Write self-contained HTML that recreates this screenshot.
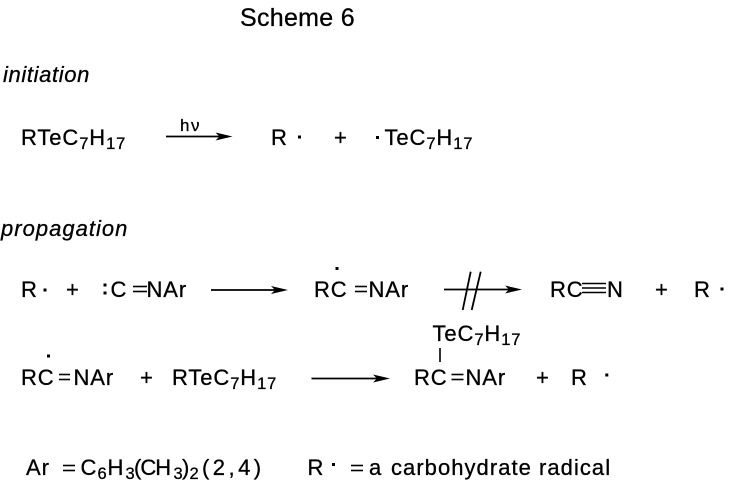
<!DOCTYPE html>
<html>
<head>
<meta charset="utf-8">
<style>
html,body{margin:0;padding:0;background:#fff;width:732px;height:490px;overflow:hidden}
svg{display:block}
text{font-family:"Liberation Sans",Arial,sans-serif;fill:#000;stroke:#000;stroke-width:0.3px;font-size:22px;letter-spacing:0.9px}
.it{font-style:italic;letter-spacing:0.6px}
.s{font-size:16.5px}
line{stroke:#000;stroke-width:1.8}
.b{stroke-width:1.6}
</style>
</head>
<body>
<svg width="732" height="490" viewBox="0 0 732 490" xmlns="http://www.w3.org/2000/svg">
<!-- Title -->
<text x="240" y="26" style="font-size:25px;letter-spacing:0.3px">Scheme 6</text>

<!-- initiation -->
<text class="it" x="3" y="82" textLength="87" lengthAdjust="spacing">initiation</text>

<text x="21" y="145">RTeC<tspan class="s" dy="4">7</tspan><tspan dy="-4">H</tspan><tspan class="s" dy="4">17</tspan></text>

<line x1="166" y1="136.5" x2="220" y2="136.5"/>
<polygon points="232.5,136.5 215.5,132.5 219.5,136.5 215.5,140.5" fill="#000"/>
<text x="180" y="131" style="font-size:17px;letter-spacing:0">h</text>
<text x="191" y="131" style="font-size:17px;letter-spacing:0">ν</text>

<text x="271" y="145">R</text>
<rect x="298" y="135.5" width="3" height="3" fill="#000"/>
<text x="334" y="145">+</text>
<rect x="376" y="136" width="3" height="3" fill="#000"/>
<text x="384.5" y="145">TeC<tspan class="s" dy="4">7</tspan><tspan dy="-4">H</tspan><tspan class="s" dy="4">17</tspan></text>

<!-- propagation -->
<text class="it" x="1" y="236" textLength="127" lengthAdjust="spacing">propagation</text>

<!-- Row 2 -->
<text x="21" y="297">R</text>
<rect x="43.5" y="288.5" width="3" height="3" fill="#000"/>
<text x="66" y="297">+</text>
<rect x="103.5" y="283.5" width="3" height="3" fill="#000"/>
<rect x="103.5" y="291.5" width="3" height="3" fill="#000"/>
<text x="110.5" y="297">C</text>
<line class="b" x1="133" y1="286.5" x2="147" y2="286.5"/>
<line class="b" x1="133" y1="291.5" x2="147" y2="291.5"/>
<text x="146.5" y="297">NAr</text>

<line x1="211" y1="290" x2="276" y2="290"/>
<polygon points="288,290 271,286 275,290 271,294" fill="#000"/>

<text x="314" y="297">RC</text>
<rect x="335.5" y="267" width="3" height="3" fill="#000"/>
<line class="b" x1="355" y1="286.5" x2="367" y2="286.5"/>
<line class="b" x1="355" y1="291.5" x2="367" y2="291.5"/>
<text x="368.5" y="297">NAr</text>

<line x1="444" y1="289.5" x2="510" y2="289.5"/>
<polygon points="522,289.5 505,285.5 509,289.5 505,293.5" fill="#000"/>
<line x1="470.7" y1="271.7" x2="462.7" y2="310"/>
<line x1="480.7" y1="271.7" x2="471.7" y2="310"/>

<text x="550" y="297">RC</text>
<line class="b" x1="582" y1="283.5" x2="606" y2="283.5"/>
<line class="b" x1="582" y1="288" x2="606" y2="288"/>
<line class="b" x1="582" y1="292.5" x2="606" y2="292.5"/>
<text x="607" y="297">N</text>
<text x="655" y="297">+</text>
<text x="694" y="297">R</text>
<rect x="720.5" y="287.5" width="3" height="3" fill="#000"/>

<!-- Row 3 -->
<text x="432.5" y="341">TeC<tspan class="s" dy="4">7</tspan><tspan dy="-4">H</tspan><tspan class="s" dy="4">17</tspan></text>
<line class="b" x1="440" y1="348" x2="440" y2="362"/>

<text x="21" y="385">RC</text>
<rect x="47" y="354.5" width="3" height="3" fill="#000"/>
<line class="b" x1="59" y1="374.5" x2="70" y2="374.5"/>
<line class="b" x1="59" y1="379.5" x2="70" y2="379.5"/>
<text x="73.5" y="385">NAr</text>
<text x="140" y="385">+</text>
<text x="172" y="385">RTeC<tspan class="s" dy="4">7</tspan><tspan dy="-4">H</tspan><tspan class="s" dy="4">17</tspan></text>

<line x1="311.5" y1="378.5" x2="378" y2="378.5"/>
<polygon points="390,378.5 373,374.5 377,378.5 373,382.5" fill="#000"/>

<text x="414" y="385">RC</text>
<line class="b" x1="451.5" y1="374.5" x2="463.5" y2="374.5"/>
<line class="b" x1="451.5" y1="379.5" x2="463.5" y2="379.5"/>
<text x="465.5" y="385">NAr</text>
<text x="536" y="385">+</text>
<text x="571" y="385">R</text>
<rect x="605.3" y="373.5" width="3" height="3" fill="#000"/>

<!-- Bottom -->
<text x="26" y="475">Ar</text>
<line class="b" x1="63" y1="465.5" x2="75" y2="465.5"/>
<line class="b" x1="63" y1="470.5" x2="75" y2="470.5"/>
<text x="80.5" y="475">C</text>
<text class="s" x="97.5" y="479">6</text>
<text x="107.5" y="475">H</text>
<text class="s" x="125.5" y="479">3</text>
<text x="134" y="475" textLength="38" lengthAdjust="spacing">(CH</text>
<text class="s" x="173.5" y="479">3</text>
<text x="182" y="475">)</text>
<text class="s" x="189.5" y="479">2</text>
<text x="202" y="475" textLength="60" lengthAdjust="spacing">(2,4)</text>

<text x="307.5" y="475">R</text>
<rect x="332" y="463" width="3" height="3" fill="#000"/>
<line class="b" x1="351" y1="465.5" x2="363" y2="465.5"/>
<line class="b" x1="351" y1="470.5" x2="363" y2="470.5"/>
<text x="369" y="475">a</text>
<text x="391" y="475" textLength="220" lengthAdjust="spacing">carbohydrate radical</text>
</svg>
</body>
</html>
